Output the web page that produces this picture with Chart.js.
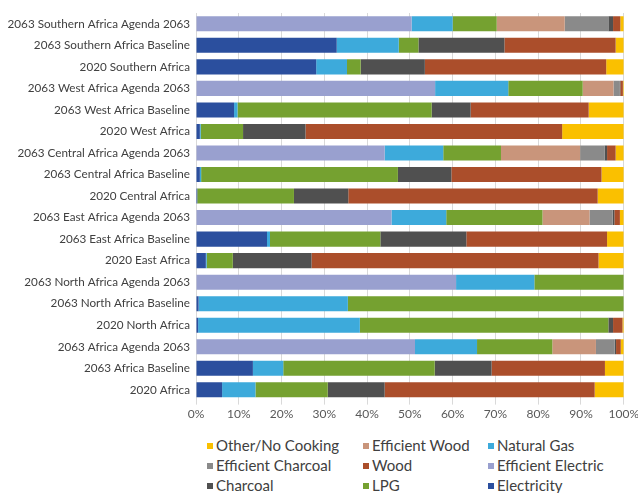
<!DOCTYPE html>
<html>
<head>
    <meta charset="UTF-8">
    <title>Cooking Fuel Mix</title>
    <style>
        body { margin: 0; background: #fff; font-family: Lato, sans-serif; overflow: hidden; }
        #wrap { position: relative; width: 638px; height: 493px; overflow: hidden; }
        #chartBox { position: absolute; left: 0; top: 0; width: 641px; height: 423px; }
        #legend { position: absolute; left: 0; top: 435px; width: 638px; height: 60px; }
        .item { position: absolute; font-size: 15px; color: #404040; line-height: 20px; white-space: nowrap; }
        .item i { display: inline-block; width: 6px; height: 6px; margin-right: 3px; vertical-align: 2px; }
    </style>
    <script src="https://cdnjs.cloudflare.com/ajax/libs/Chart.js/4.4.1/chart.umd.min.js"></script>
</head>
<body>
<div id="wrap">
    <div id="chartBox"><canvas id="fuelChart"></canvas></div>
    <div id="legend"></div>
</div>
<script>
    const categories = [
        "2063 Southern Africa Agenda 2063", "2063 Southern Africa Baseline", "2020 Southern Africa",
        "2063 West Africa Agenda 2063", "2063 West Africa Baseline", "2020 West Africa",
        "2063 Central Africa Agenda 2063", "2063 Central Africa Baseline", "2020 Central Africa",
        "2063 East Africa Agenda 2063", "2063 East Africa Baseline", "2020 East Africa",
        "2063 North Africa Agenda 2063", "2063 North Africa Baseline", "2020 North Africa",
        "2063 Africa Agenda 2063", "2063 Africa Baseline", "2020 Africa"
    ];

    const electricity  = [0, 32.9, 28.1, 0, 8.9, 0.9, 0, 0.9, 0.3, 0, 16.6, 2.3, 0, 0.6, 0.5, 0, 13.3, 6.1];
    const effElectric  = [50.4, 0, 0, 55.9, 0, 0, 44.1, 0, 0, 45.7, 0, 0, 60.8, 0, 0, 51.2, 0, 0];
    const naturalGas   = [9.6, 14.5, 7.2, 17.1, 0.8, 0.2, 13.7, 0.3, 0, 12.8, 0.7, 0.2, 18.3, 34.9, 37.8, 14.5, 7.1, 7.8];
    const lpg          = [10.3, 4.6, 3.2, 17.4, 45.4, 9.9, 13.5, 46.0, 22.6, 22.5, 25.8, 6.1, 20.9, 64.5, 58.1, 17.6, 35.4, 16.9];
    const effWood      = [15.9, 0, 0, 7.2, 0, 0, 18.5, 0, 0, 11.0, 0, 0, 0, 0, 0, 10.2, 0, 0];
    const effCharcoal  = [10.2, 0, 0, 1.5, 0, 0, 5.7, 0, 0, 5.4, 0, 0, 0, 0, 0, 4.4, 0, 0];
    const charcoal     = [1.1, 20.1, 15.0, 0.1, 9.1, 14.6, 0.6, 12.5, 12.7, 0.4, 20.1, 18.4, 0, 0, 1.1, 0.3, 13.3, 13.3];
    const wood         = [1.7, 26.0, 42.4, 0.6, 27.6, 60.0, 2.0, 35.1, 58.3, 1.3, 32.9, 67.1, 0, 0, 2.2, 1.1, 26.5, 49.1];
    const otherNone    = [0.8, 1.9, 4.1, 0.2, 8.2, 14.4, 1.9, 5.2, 6.1, 0.9, 3.9, 5.9, 0, 0, 0.3, 0.7, 4.4, 6.8];

    const xTicks = [0, 10, 20, 30, 40, 50, 60, 70, 80, 90, 100];

    // stacking order left to right
    const series = [
        { label: "Electricity", data: electricity, color: "#2B4F9E" },
        { label: "Efficient Electric", data: effElectric, color: "#99A0CF" },
        { label: "Natural Gas", data: naturalGas, color: "#3DAADB" },
        { label: "LPG", data: lpg, color: "#75A130" },
        { label: "Efficient Wood", data: effWood, color: "#C9957B" },
        { label: "Efficient Charcoal", data: effCharcoal, color: "#8A8A8A" },
        { label: "Charcoal", data: charcoal, color: "#505050" },
        { label: "Wood", data: wood, color: "#AB4E2B" },
        { label: "Other/No Cooking", data: otherNone, color: "#FAC000" }
    ];

    // legend grid as in the original (rows x columns)
    const legendGrid = [
        ["Other/No Cooking", "Efficient Wood", "Natural Gas"],
        ["Efficient Charcoal", "Wood", "Efficient Electric"],
        ["Charcoal", "LPG", "Electricity"]
    ];
    const legendCols = [207, 363, 488];

    const ctx = document.getElementById("fuelChart").getContext("2d");
    const fuelChart = new Chart(ctx, {
        type: "bar",
        data: {
            labels: categories,
            datasets: series.map(s => ({
                label: s.label,
                data: s.data,
                backgroundColor: s.color,
                borderWidth: 0,
                barPercentage: 0.7,
                categoryPercentage: 1.0
            }))
        },
        options: {
            indexAxis: "y",
            responsive: true,
            maintainAspectRatio: false,
            animation: false,
            layout: { padding: { left: 0, right: 0, top: 10, bottom: 0 } },
            plugins: {
                legend: { display: false },
                tooltip: { enabled: false }
            },
            scales: {
                x: {
                    stacked: true,
                    min: 0,
                    max: 100,
                    afterBuildTicks: axis => { axis.ticks = xTicks.map(v => ({ value: v })); },
                    grid: { color: "#d9d9d9", tickLength: 4, drawTicks: true },
                    border: { display: false },
                    ticks: {
                        callback: v => v + "%",
                        color: "#595959",
                        font: { family: "Lato", size: 12 },
                        padding: 2,
                        maxRotation: 0
                    }
                },
                y: {
                    stacked: true,
                    afterFit: axis => { axis.width = 196; },
                    grid: { display: false, drawTicks: false },
                    border: { display: true, color: "#d9d9d9" },
                    ticks: {
                        color: "#404040",
                        font: { family: "Lato", size: 11.7 },
                        padding: 6,
                        autoSkip: false
                    }
                }
            }
        }
    });

    const legendEl = document.getElementById("legend");
    legendGrid.forEach((row, r) => {
        row.forEach((name, c) => {
            const s = series.find(d => d.label === name);
            const div = document.createElement("div");
            div.className = "item";
            div.style.left = legendCols[c] + "px";
            div.style.top = (r * 20) + "px";
            div.innerHTML = '<i style="background:' + s.color + '"></i>' + name;
            legendEl.appendChild(div);
        });
    });
</script>
</body>
</html>
